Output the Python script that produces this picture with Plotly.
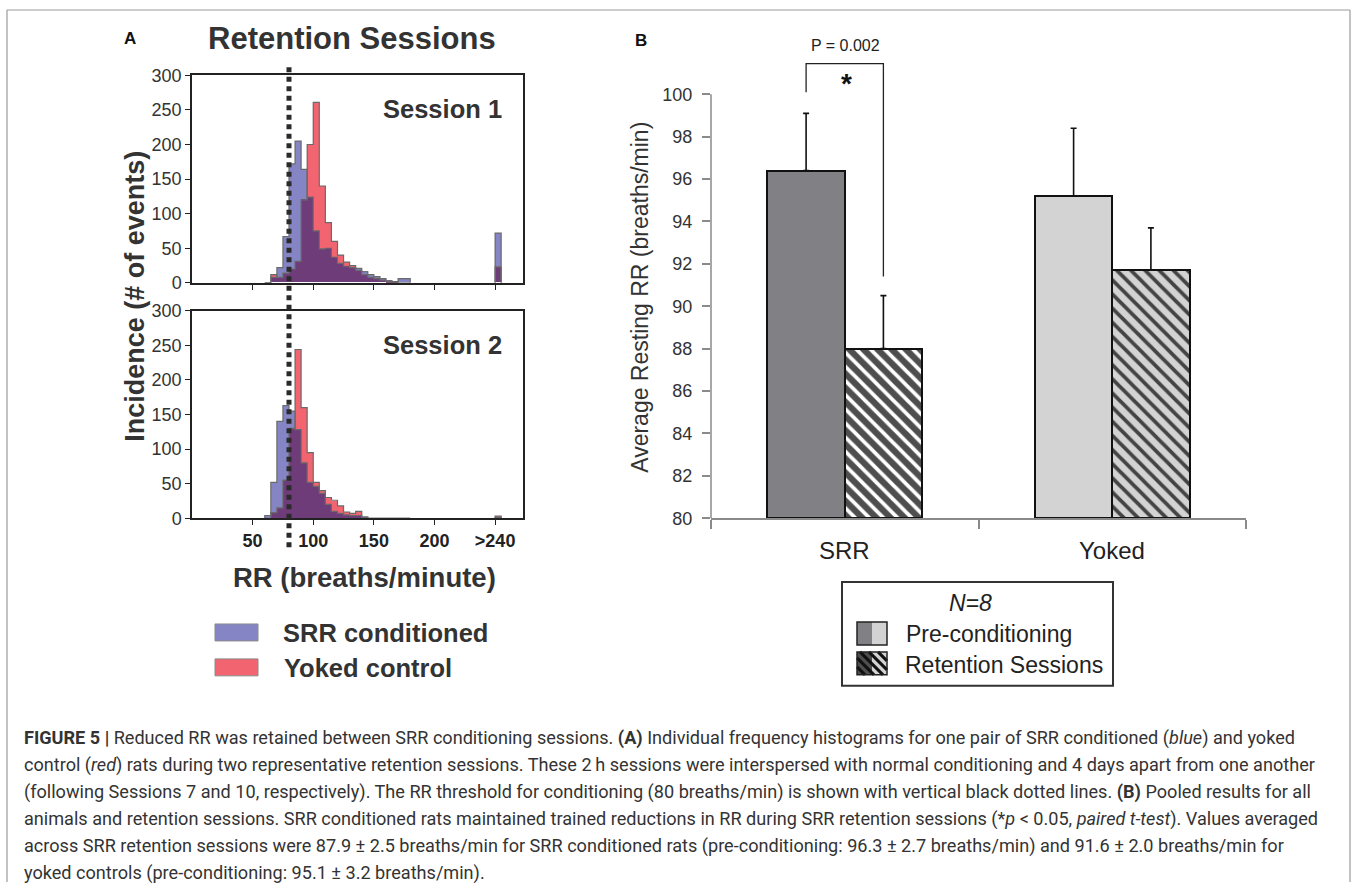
import numpy as np
import plotly.graph_objects as go

# figure geometry; page y is mapped with a small vertical correction
W, H = 1357, 892
Y0, SY = 9.5, 0.98

# ---------------- Data: panel A histograms (5 breaths/min bins) ----------------
bin_starts = [60, 65, 70, 75, 80, 85, 90, 95, 100, 105, 110, 115, 120, 125, 130,
              135, 140, 145, 150, 155, 160, 165, 170, 175]
bin_width = 5
overflow_pos = 250          # position of the ">240" bin
x_tickvals = [50, 100, 150, 200, 250]
x_ticktext = ["50", "100", "150", "200", ">240"]

s1_srr = [0, 8, 22, 67, 172, 205, 164, 124, 75, 49, 50, 37, 28, 24, 22,
          21, 16, 12, 9, 6, 3, 1, 6, 6]
s1_yoked = [0, 12, 8, 14, 20, 31, 120, 200, 261, 140, 87, 60, 40, 30, 25,
            18, 12, 8, 6, 4, 2, 1, 0, 0]
s1_srr_over, s1_yoked_over = 72, 23

s2_srr = [4, 52, 140, 163, 155, 128, 80, 52, 46, 36, 20, 10, 7, 5, 4,
          4, 1, 0, 0, 0, 0, 0, 0, 0]
s2_yoked = [0, 8, 15, 55, 130, 244, 160, 95, 52, 40, 30, 26, 18, 9, 7,
            10, 2, 0, 0, 0, 0, 0, 0, 0]
s2_srr_over, s2_yoked_over = 1, 3

threshold = 80

# ---------------- Data: panel B bars ----------------
groups = ["SRR", "Yoked"]
pre_mean = [96.4, 95.2]
pre_err = [2.7, 3.2]
ret_mean = [88.0, 91.7]
ret_err = [2.5, 2.0]
p_text = "P = 0.002"

caption_lines = [
    "<b>FIGURE 5 |</b> Reduced RR was retained between SRR conditioning sessions. <b>(A)</b> Individual frequency histograms for one pair of SRR conditioned (<i>blue</i>) and yoked",
    "control (<i>red</i>) rats during two representative retention sessions. These 2\u2009h sessions were interspersed with normal conditioning and 4 days apart from one another",
    "(following Sessions 7 and 10, respectively). The RR threshold for conditioning (80 breaths/min) is shown with vertical black dotted lines. <b>(B)</b> Pooled results for all",
    "animals and retention sessions. SRR conditioned rats maintained trained reductions in RR during SRR retention sessions (*<i>p</i> &lt; 0.05, <i>paired t-test</i>). Values averaged",
    "across SRR retention sessions were 87.9 \u00b1 2.5 breaths/min for SRR conditioned rats (pre-conditioning: 96.3 \u00b1 2.7 breaths/min) and 91.6 \u00b1 2.0 breaths/min for",
    "yoked controls (pre-conditioning: 95.1 \u00b1 3.2 breaths/min).",
]


# ---------------- helpers (page pixel -> paper) ----------------
def px(x):
    return x / W


def py(y):
    return 1 - ((y - Y0) / SY) / H


BLUE = "#8585c6"
RED = "#f2646f"
PURPLE = "#6e3c79"
OUTLINE = "#6a6a6a"
ARIAL = "Liberation Sans, Arial, sans-serif"

fig = go.Figure()


def add_hist(srr, yoked, srr_over, yoked_over, xa, ya):
    starts = np.array(bin_starts + [overflow_pos], dtype=float)
    b = np.array(srr + [srr_over], dtype=float)
    r = np.array(yoked + [yoked_over], dtype=float)
    centers = starts + bin_width / 2
    both = np.minimum(b, r)
    for vals, col in ((b, BLUE), (r, RED), (both, PURPLE)):
        fig.add_trace(go.Bar(x=centers, y=vals, width=bin_width, marker_color=col,
                             marker_line_width=0, xaxis=xa, yaxis=ya,
                             showlegend=False, hoverinfo="skip"))
    for vals in (b, r):
        main = vals[:-1]
        edges = list(np.array(bin_starts, float)) + [bin_starts[-1] + bin_width]
        xs = [edges[0]] + edges
        ys = [0] + list(main) + [0]
        fig.add_trace(go.Scatter(x=xs, y=ys, mode="lines", line_shape="hv",
                                 line=dict(color=OUTLINE, width=1.2),
                                 xaxis=xa, yaxis=ya, showlegend=False, hoverinfo="skip"))
        ov = vals[-1]
        fig.add_trace(go.Scatter(x=[overflow_pos, overflow_pos, overflow_pos + bin_width, overflow_pos + bin_width],
                                 y=[0, ov, ov, 0], mode="lines",
                                 line=dict(color=OUTLINE, width=1.2),
                                 xaxis=xa, yaxis=ya, showlegend=False, hoverinfo="skip"))


add_hist(s1_srr, s1_yoked, s1_srr_over, s1_yoked_over, "x", "y")
add_hist(s2_srr, s2_yoked, s2_srr_over, s2_yoked_over, "x2", "y2")

# ---------------- panel B bars ----------------
bw = 0.289
xpos = np.arange(len(groups), dtype=float)
fig.add_trace(go.Bar(x=xpos, y=np.array(pre_mean) - 80, base=80, width=bw, offset=-bw,
                     marker=dict(color=["#808085", "#d3d3d3"], line=dict(color="#111", width=2)),
                     error_y=dict(type="data", array=pre_err, arrayminus=[0, 0], symmetric=False,
                                  color="#111", thickness=1.6, width=3),
                     xaxis="x3", yaxis="y3", showlegend=False, hoverinfo="skip"))
fig.add_trace(go.Bar(x=xpos, y=np.array(ret_mean) - 80, base=80, width=bw, offset=0,
                     marker=dict(color=["#4e4e4e", "#d3d3d3"], line=dict(color="#111", width=2),
                                 pattern=dict(shape="\\", fgcolor="#111111", fgopacity=1,
                                              size=10, solidity=0.38, fillmode="overlay")),
                     error_y=dict(type="data", array=ret_err, arrayminus=[0, 0], symmetric=False,
                                  color="#111", thickness=1.6, width=3),
                     xaxis="x3", yaxis="y3", showlegend=False, hoverinfo="skip"))

# significance bracket
xl = xpos[0] - bw / 2
xr = xpos[0] + bw / 2
fig.add_trace(go.Scatter(x=[xl, xl, xr, xr], y=[100.1, 101.45, 101.45, 91.4], mode="lines",
                         line=dict(color="#222", width=1.3), xaxis="x3", yaxis="y3",
                         showlegend=False, hoverinfo="skip", cliponaxis=False))

# ---------------- axes ----------------
hist_dom_x = [px(192), px(523)]
common_x = dict(range=[0, 273], domain=hist_dom_x, tickvals=x_tickvals, ticktext=x_ticktext,
                ticks="outside", ticklen=5, tickwidth=1.3, tickcolor="#222",
                showline=True, linecolor="#222", linewidth=1.5, mirror=True,
                showgrid=False, zeroline=False, fixedrange=True)
common_y = dict(range=[0, 300], tickvals=[0, 50, 100, 150, 200, 250, 300],
                ticks="outside", ticklen=5, tickwidth=1.3, tickcolor="#222",
                tickfont=dict(family=ARIAL, size=18, color="#333"),
                showline=True, linecolor="#222", linewidth=1.5, mirror=True,
                showgrid=False, zeroline=False)

fig.update_layout(
    xaxis=dict(**common_x, anchor="y", showticklabels=False),
    yaxis=dict(**common_y, domain=[py(283), py(75)], anchor="x"),
    xaxis2=dict(**common_x, anchor="y2", showticklabels=True,
                tickfont=dict(family=ARIAL, size=18, color="#222", weight="bold")),
    yaxis2=dict(**common_y, domain=[py(519), py(311)], anchor="x2"),
    xaxis3=dict(domain=[px(711), px(1246)], range=[-0.5, 1.5], anchor="y3",
                tickvals=[-0.5, 0.5, 1.5], ticktext=["", "", ""], ticks="outside", ticklen=9,
                tickcolor="#8a8a8a", tickwidth=1.5, showline=True, linecolor="#8a8a8a",
                linewidth=1.5, showgrid=False, zeroline=False),
    yaxis3=dict(domain=[py(519), py(19.6)], range=[80, 103.5], anchor="x3",
                tickvals=list(range(80, 101, 2)), ticks="outside", ticklen=8,
                tickcolor="#8a8a8a", tickwidth=1.5, showline=False, showgrid=False,
                zeroline=False, ticklabelstandoff=6,
                tickfont=dict(family=ARIAL, size=18, color="#333")),
    barmode="overlay", bargap=0,
    width=W, height=H, margin=dict(l=0, r=0, t=0, b=0),
    paper_bgcolor="white", plot_bgcolor="rgba(0,0,0,0)",
    font=dict(family=ARIAL, color="#222"),
)

shapes = []
# outer frame (left, top, right)
for (x0, y0, x1, y1) in ((px(7), 0, px(7), 1), (px(7), 1, px(1350), 1), (px(1350), 0, px(1350), 1)):
    shapes.append(dict(type="line", xref="paper", yref="paper", x0=x0, x1=x1, y0=y0, y1=y1,
                       line=dict(color="#9a9a9a", width=1.2)))
# threshold dotted line
shapes.append(dict(type="line", xref="x", yref="paper", x0=threshold, x1=threshold, y0=py(548), y1=py(65),
                   line=dict(color="#2a2a2a", width=5, dash="5px,4.5px"), layer="above"))
# B y axis line (80 to 100)
shapes.append(dict(type="line", xref="x3 domain", yref="y3", x0=0, x1=0, y0=80, y1=100,
                   line=dict(color="#8a8a8a", width=1.5)))
# A legend swatches
shapes.append(dict(type="rect", xref="paper", yref="paper", x0=px(215), x1=px(258), y0=py(642), y1=py(625),
                   fillcolor=BLUE, line=dict(color="#8a8a8a", width=1)))
shapes.append(dict(type="rect", xref="paper", yref="paper", x0=px(215), x1=px(258), y0=py(677), y1=py(660),
                   fillcolor=RED, line=dict(color="#8a8a8a", width=1)))
# B legend box
shapes.append(dict(type="rect", xref="paper", yref="paper", x0=px(842), x1=px(1113), y0=py(687), y1=py(583),
                   line=dict(color="#333", width=2)))
# pre swatch
shapes.append(dict(type="rect", xref="paper", yref="paper", x0=px(857), x1=px(872), y0=py(646), y1=py(623),
                   fillcolor="#808085", line=dict(width=0)))
shapes.append(dict(type="rect", xref="paper", yref="paper", x0=px(872), x1=px(887), y0=py(646), y1=py(623),
                   fillcolor="#d3d3d3", line=dict(width=0)))
shapes.append(dict(type="rect", xref="paper", yref="paper", x0=px(857), x1=px(887), y0=py(646), y1=py(623),
                   line=dict(color="#222", width=1.5)))
# retention swatch
rx0, rx1, ry0, ry1 = 857, 887, 653, 676
shapes.append(dict(type="rect", xref="paper", yref="paper", x0=px(rx0), x1=px(872), y0=py(ry1), y1=py(ry0),
                   fillcolor="#4e4e4e", line=dict(width=0)))
shapes.append(dict(type="rect", xref="paper", yref="paper", x0=px(872), x1=px(rx1), y0=py(ry1), y1=py(ry0),
                   fillcolor="#d3d3d3", line=dict(width=0)))
for c in np.arange(ry0 - rx1, ry1 - rx0 + 1, 9.0):
    xa = max(rx0, ry0 - c)
    xb = min(rx1, ry1 - c)
    if xb - xa > 1:
        shapes.append(dict(type="line", xref="paper", yref="paper", x0=px(xa), x1=px(xb),
                           y0=py(xa + c), y1=py(xb + c), line=dict(color="#111", width=3)))
shapes.append(dict(type="rect", xref="paper", yref="paper", x0=px(rx0), x1=px(rx1), y0=py(ry1), y1=py(ry0),
                   line=dict(color="#222", width=1.5)))
fig.update_layout(shapes=shapes)

ann = []


def A(text, x, y, size, bold=False, italic=False, xanchor="center", color="#333", angle=0, family=ARIAL):
    f = dict(family=family, size=size, color=color)
    if bold:
        f["weight"] = "bold"
    if italic:
        f["style"] = "italic"
    ann.append(dict(text=text, x=px(x), y=py(y), xref="paper", yref="paper", showarrow=False,
                    xanchor=xanchor, yanchor="middle", font=f, textangle=angle))


A("A", 130, 38, 17, bold=True, color="#111")
A("Retention Sessions", 352, 38, 31, bold=True)
A("Session 1", 504, 109, 25.5, bold=True, xanchor="right")
A("Session 2", 504, 345, 25.5, bold=True, xanchor="right")
A("Incidence (# of events)", 135, 297, 27, bold=True, angle=-90)
A("RR (breaths/minute)", 364, 578, 27.5, bold=True)
A("SRR conditioned", 281, 634, 25.5, bold=True, xanchor="left")
A("Yoked control", 282, 669, 25.5, bold=True, xanchor="left")

A("B", 641, 40, 17, bold=True, color="#111")
A(p_text, 845, 45, 16, color="#222")
A("*", 846, 83, 28, bold=True, color="#111")
A("Average Resting RR (breaths/min)", 640, 298, 23, angle=-90)
for g, xv in zip(groups, xpos):
    ann.append(dict(text=g, x=xv, y=py(551), xref="x3", yref="paper", showarrow=False,
                    xanchor="center", yanchor="middle", font=dict(family=ARIAL, size=24, color="#222")))
A("N=8", 970, 604, 23, italic=True, color="#222")
A("Pre-conditioning", 904, 635, 23, xanchor="left", color="#222")
A("Retention Sessions", 903, 666, 23, xanchor="left", color="#222")

cap_font = "Liberation Sans Narrow, Roboto, Arial, sans-serif"
for i, line in enumerate(caption_lines):
    ann.append(dict(text=line, x=px(22), y=py(739 + i * 27.2), xref="paper", yref="paper",
                    showarrow=False, xanchor="left", yanchor="middle", align="left",
                    font=dict(family=cap_font, size=18.1, color="#333")))

fig.update_layout(annotations=ann)

fig.write_html("out.html")
